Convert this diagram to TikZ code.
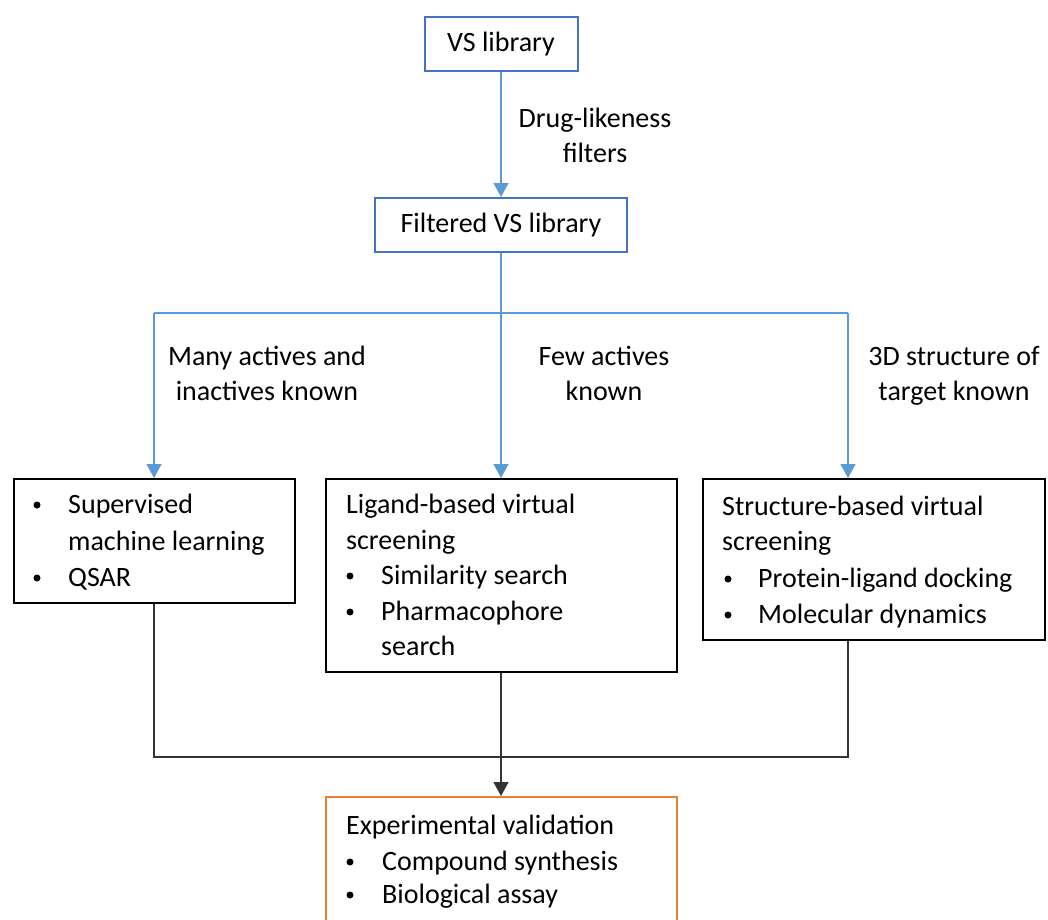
\documentclass[tikz,border=0pt]{standalone}
\usepackage{fontspec}
\setmainfont{Carlito}
\usetikzlibrary{arrows.meta}
\definecolor{boxblue}{HTML}{4472C4}
\definecolor{lineblue}{HTML}{5B9BD5}
\definecolor{boxorange}{HTML}{ED7D31}
\begin{document}
\begin{tikzpicture}[x=1pt,y=-1pt,
  txt/.style={inner sep=0pt, font=\fontsize{28}{34}\selectfont},
  bul/.style={circle, fill=black, inner sep=0pt, minimum size=7pt},
  bluebox/.style={draw=boxblue, line width=2pt, inner sep=0pt, font=\fontsize{28}{34}\selectfont},
  blackbox/.style={draw=black, line width=2pt, inner sep=0pt},
  orangebox/.style={draw=boxorange, line width=2pt, inner sep=0pt},
  blueline/.style={draw=lineblue, line width=1.2pt},
  blackline/.style={draw=black!80, line width=1.2pt},
  bluearrow/.style={blueline, -{Triangle[width=15pt,length=14pt]}},
  blackarrow/.style={blackline, -{Triangle[width=15pt,length=14pt]}}
]
\useasboundingbox (0,0) rectangle (1048,919);
\clip (0,0) rectangle (1048,919);
\fill[white] (0,0) rectangle (1048,919);

% boxes
\node[bluebox, minimum width=153pt, minimum height=54pt] (vs) at (501,44) {VS library};
\node[bluebox, minimum width=252pt, minimum height=54pt] (fvs) at (501,225) {Filtered VS library};
\node[blackbox, minimum width=281pt, minimum height=124pt] (lb) at (154,541) {};
\node[blackbox, minimum width=351pt, minimum height=193pt] (mb) at (501,575.5) {};
\node[blackbox, minimum width=342pt, minimum height=161pt] (rb) at (874,559.5) {};
\node[orangebox, minimum width=351pt, minimum height=166pt] (ob) at (501,880) {};

% coordinates
\coordinate (split) at (501,313);
\coordinate (jl) at (154,313);
\coordinate (jr) at (848,313);
\coordinate (merge) at (501,757);

% blue connectors
\draw[bluearrow] (vs.south) -- (fvs.north);
\draw[blueline] (fvs.south) -- (split);
\draw[blueline] (jl) -- (jr);
\draw[bluearrow] (jl) -- (lb.north);
\draw[bluearrow] (split) -- (mb.north);
\draw[bluearrow] (jr) -- (jr |- rb.north);

% black connectors
\draw[blackline] (lb.south) |- (merge);
\draw[blackline] (rb.south -| jr) |- (merge);
\draw[blackarrow] (mb.south) -- (ob.north);

% labels
\node[txt, anchor=base] (l1a) at (595,127) {Drug-likeness};
\node[txt, anchor=base] (l1b) at (595,162) {filters};
\node[txt, anchor=base] (l2a) at (267,365) {Many actives and};
\node[txt, anchor=base] (l2b) at (267,400) {inactives known};
\node[txt, anchor=base] (l3a) at (604,365) {Few actives};
\node[txt, anchor=base] (l3b) at (604,400) {known};
\node[txt, anchor=base] (l4a) at (954,365) {3D structure of};
\node[txt, anchor=base] (l4b) at (954,400) {target known};

% left box content
\node[bul] (lbb1) at (37,505) {};
\node[txt, anchor=base west] (lbt1) at (68,513) {Supervised};
\node[txt, anchor=base west] (lbt2) at (68,550) {machine learning};
\node[bul] (lbb3) at (37,578) {};
\node[txt, anchor=base west] (lbt3) at (68,586) {QSAR};

% middle box content
\node[txt, anchor=base west] (mbt1) at (346,513) {Ligand-based virtual};
\node[txt, anchor=base west] (mbt2) at (346,549) {screening};
\node[bul] (mbb3) at (350,576) {};
\node[txt, anchor=base west] (mbt3) at (381,584) {Similarity search};
\node[bul] (mbb4) at (350,612) {};
\node[txt, anchor=base west] (mbt4) at (381,620) {Pharmacophore};
\node[txt, anchor=base west] (mbt5) at (381,655) {search};

% right box content
\node[txt, anchor=base west] (rbt1) at (722,515) {Structure-based virtual};
\node[txt, anchor=base west] (rbt2) at (722,550) {screening};
\node[bul] (rbb3) at (728,579) {};
\node[txt, anchor=base west] (rbt3) at (758,587) {Protein-ligand docking};
\node[bul] (rbb4) at (728,615) {};
\node[txt, anchor=base west] (rbt4) at (758,623) {Molecular dynamics};

% orange box content
\node[txt, anchor=base west] (obt1) at (346,834) {Experimental validation};
\node[bul] (obb2) at (350,862) {};
\node[txt, anchor=base west] (obt2) at (382,870) {Compound synthesis};
\node[bul] (obb3) at (350,895) {};
\node[txt, anchor=base west] (obt3) at (382,903) {Biological assay};
\end{tikzpicture}
\end{document}
